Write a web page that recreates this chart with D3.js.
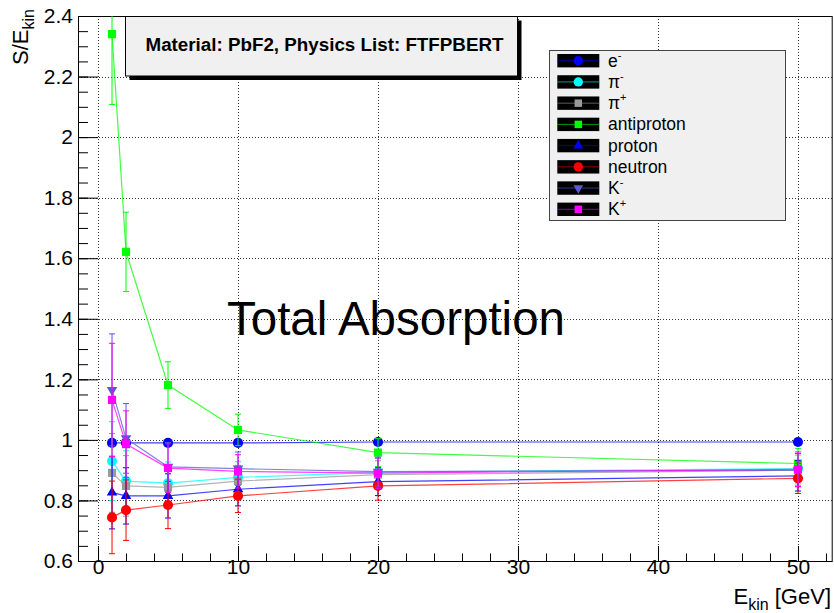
<!DOCTYPE html>
<html>
<head>
<meta charset="utf-8">
<script src="https://cdn.jsdelivr.net/npm/d3@7"></script>
<style>
  html, body { margin: 0; padding: 0; background: #fff; }
  svg { display: block; font-family: "Liberation Sans", Arial, Helvetica, sans-serif; }
</style>
</head>
<body>
<svg id="chart" width="834" height="613"></svg>
<script>
// Beam energies (GeV)
const energies = [1, 2, 5, 10, 20, 50];

// Response S/E_kin per particle, with symmetric errors
const eMinusVals      = [0.990, 0.990, 0.990, 0.990, 0.993, 0.993];
const eMinusErr       = [0.008, 0.008, 0.008, 0.008, 0.008, 0.008];
const piMinusVals     = [0.930, 0.864, 0.857, 0.876, 0.893, 0.905];
const piMinusErr      = [0.130, 0.100, 0.070, 0.052, 0.046, 0.050];
const piPlusVals      = [0.891, 0.848, 0.843, 0.864, 0.885, 0.900];
const piPlusErr       = [0.130, 0.100, 0.070, 0.052, 0.046, 0.050];
const antiprotonVals  = [2.340, 1.621, 1.181, 1.033, 0.958, 0.922];
const antiprotonErr   = [0.232, 0.131, 0.077, 0.052, 0.046, 0.050];
const protonVals      = [0.826, 0.815, 0.815, 0.837, 0.862, 0.881];
const protonErr       = [0.120, 0.093, 0.073, 0.055, 0.046, 0.050];
const neutronVals     = [0.744, 0.768, 0.785, 0.815, 0.848, 0.873];
const neutronErr      = [0.120, 0.100, 0.078, 0.055, 0.047, 0.050];
const kMinusVals      = [1.165, 1.005, 0.911, 0.905, 0.895, 0.900];
const kMinusErr       = [0.185, 0.115, 0.080, 0.055, 0.048, 0.055];
const kPlusVals       = [1.132, 0.986, 0.907, 0.896, 0.890, 0.903];
const kPlusErr        = [0.187, 0.110, 0.080, 0.055, 0.050, 0.057];

// Legend names (base text + optional superscript)
const particleNames = [
  ["e", "-"], ["\u03c0", "-"], ["\u03c0", "+"], ["antiproton", ""],
  ["proton", ""], ["neutron", ""], ["K", "-"], ["K", "+"]
];

// Tick labels
const xTicks = [0, 10, 20, 30, 40, 50];
const yTicks = [0.6, 0.8, 1, 1.2, 1.4, 1.6, 1.8, 2, 2.2, 2.4];

const seriesStyle = [
  { color: "#0000ff", marker: "circle" },
  { color: "#00ffff", marker: "circle" },
  { color: "#999999", marker: "square" },
  { color: "#00ff00", marker: "square" },
  { color: "#0000ff", marker: "triangleUp" },
  { color: "#ff0000", marker: "circle" },
  { color: "#5a5ad2", marker: "triangleDown" },
  { color: "#ff00ff", marker: "square" }
];
const seriesVals = [eMinusVals, piMinusVals, piPlusVals, antiprotonVals,
                    protonVals, neutronVals, kMinusVals, kPlusVals];
const seriesErr = [eMinusErr, piMinusErr, piPlusErr, antiprotonErr,
                   protonErr, neutronErr, kMinusErr, kPlusErr];

const series = seriesVals.map((vals, i) => ({
  name: particleNames[i],
  color: seriesStyle[i].color,
  marker: seriesStyle[i].marker,
  points: energies.map((e, j) => ({ x: e, y: vals[j], err: seriesErr[i][j] }))
}));

const svg = d3.select("#chart");
const frame = { left: 78, right: 832.7, top: 16, bottom: 561 };

const x = d3.scaleLinear().domain([-1.43, 52.48]).range([frame.left, frame.right]);
const y = d3.scaleLinear().domain([0.6, 2.4]).range([frame.bottom, frame.top]);

svg.append("defs").append("clipPath").attr("id", "plotClip")
  .append("rect")
  .attr("x", frame.left).attr("y", frame.top)
  .attr("width", frame.right - frame.left).attr("height", frame.bottom - frame.top);

// Dotted grid at major ticks
const grid = svg.append("g").attr("stroke", "#333").attr("stroke-dasharray", "1,2").attr("stroke-width", 1);
grid.selectAll("line.gx").data(xTicks).join("line")
  .attr("x1", d => Math.round(x(d)) + 0.5).attr("x2", d => Math.round(x(d)) + 0.5)
  .attr("y1", frame.top).attr("y2", frame.bottom);
grid.selectAll("line.gy").data(yTicks).join("line")
  .attr("y1", d => Math.round(y(d)) + 0.5).attr("y2", d => Math.round(y(d)) + 0.5)
  .attr("x1", frame.left).attr("x2", frame.right);

// Axes: ticks point into the frame
const tickFont = "21px";
const xMinor = d3.range(0, 53, 2);
const yMinor = d3.range(0.6, 2.401, 0.05);

const gxMinor = svg.append("g").attr("transform", `translate(0,${frame.bottom})`)
  .call(d3.axisBottom(x).tickValues(xMinor).tickSize(-7.5).tickFormat(""));
const gx = svg.append("g").attr("transform", `translate(0,${frame.bottom})`)
  .call(d3.axisBottom(x).tickValues(xTicks).tickSize(-15).tickPadding(9).tickFormat(d => String(d)));
const gyMinor = svg.append("g").attr("transform", `translate(${frame.left},0)`)
  .call(d3.axisLeft(y).tickValues(yMinor).tickSize(-10).tickFormat(""));
const gy = svg.append("g").attr("transform", `translate(${frame.left},0)`)
  .call(d3.axisLeft(y).tickValues(yTicks).tickSize(-20).tickPadding(5).tickFormat(d => String(+d.toFixed(1))));

[gxMinor, gx, gyMinor, gy].forEach(g => {
  g.select(".domain").remove();
  g.selectAll("line").attr("stroke", "#000");
  g.selectAll("text").attr("font-size", tickFont).attr("fill", "#000")
    .attr("font-family", "Liberation Sans, Arial, sans-serif");
});
gx.selectAll("text").attr("dy", "0.2em");

// Frame
svg.append("rect")
  .attr("x", frame.left + 0.5).attr("y", frame.top + 0.5)
  .attr("width", frame.right - frame.left - 1).attr("height", frame.bottom - frame.top)
  .attr("fill", "none").attr("stroke", "#000").attr("stroke-width", 1);

// Axis titles
const xt = svg.append("text").attr("x", 831).attr("y", 604).attr("text-anchor", "end")
  .attr("font-size", 22).attr("fill", "#000");
xt.append("tspan").text("E");
xt.append("tspan").attr("font-size", 16).attr("dy", 6).text("kin");
xt.append("tspan").attr("dy", -6).text(" [GeV]");

const yt = svg.append("text").attr("transform", "translate(28,9) rotate(-90)")
  .attr("text-anchor", "end").attr("font-size", 22).attr("fill", "#000");
yt.append("tspan").text("S/E");
yt.append("tspan").attr("font-size", 16).attr("dy", 6).text("kin");

// Annotation
svg.append("text").attr("x", 227).attr("y", 335)
  .attr("font-size", 47.5).attr("fill", "#000").text("Total Absorption");

// Marker shapes
function markerPath(kind, scale) {
  const s = scale || 1;
  if (kind === "circle") return d3.symbol(d3.symbolCircle, 80 * s)();
  if (kind === "square") return d3.symbol(d3.symbolSquare, 66 * s)();
  return d3.symbol(d3.symbolTriangle, 48 * s)();
}
function drawMarker(g, kind, color, cx, cy, scale) {
  g.append("path")
    .attr("d", markerPath(kind, scale))
    .attr("transform", `translate(${cx},${cy})` + (kind === "triangleDown" ? " rotate(180)" : ""))
    .attr("fill", color);
}

const plot = svg.append("g").attr("clip-path", "url(#plotClip)");
const line = d3.line().x(d => x(d.x)).y(d => y(d.y));

series.forEach(s => {
  const g = plot.append("g");
  g.append("path").datum(s.points)
    .attr("d", line).attr("fill", "none")
    .attr("stroke", s.color).attr("stroke-width", 1.2).attr("stroke-opacity", 0.75);
  const eb = g.append("g").attr("stroke", s.color).attr("stroke-width", 1);
  s.points.forEach(p => {
    const px = x(p.x), top = y(p.y + p.err), bot = y(p.y - p.err);
    eb.append("line").attr("x1", px).attr("x2", px).attr("y1", top).attr("y2", bot);
    eb.append("line").attr("x1", px - 3).attr("x2", px + 3).attr("y1", top).attr("y2", top);
    eb.append("line").attr("x1", px - 3).attr("x2", px + 3).attr("y1", bot).attr("y2", bot);
  });
  s.points.forEach(p => drawMarker(g, s.marker, s.color, x(p.x), y(p.y)));
});

// Header box with shadow
const hb = { x: 125.5, y: 16.5, w: 392, h: 59.5 };
svg.append("rect").attr("x", hb.x + 4).attr("y", hb.y + 4).attr("width", hb.w).attr("height", hb.h).attr("fill", "#000");
svg.append("rect").attr("x", hb.x).attr("y", hb.y).attr("width", hb.w).attr("height", hb.h)
  .attr("fill", "#f0f0f0").attr("stroke", "#000").attr("stroke-width", 1);
svg.append("text").attr("x", 145.5).attr("y", 51).attr("font-size", 18.8).attr("font-weight", "bold")
  .attr("fill", "#000").text("Material: PbF2, Physics List: FTFPBERT");

// Legend
const lg = svg.append("g");
lg.append("rect").attr("x", 549.5).attr("y", 50.5).attr("width", 236).attr("height", 170)
  .attr("fill", "#f0f0f0").attr("stroke", "#444").attr("stroke-width", 1);
const rowY = d3.scaleLinear().domain([0, 7]).range([60.7, 209.3]);
series.forEach((s, i) => {
  const cy = rowY(i);
  lg.append("rect").attr("x", 557.3).attr("y", cy - 6.7).attr("width", 42).attr("height", 13.4).attr("fill", "#000");
  lg.append("line").attr("x1", 557.3).attr("x2", 599.3).attr("y1", cy).attr("y2", cy)
    .attr("stroke", s.color).attr("stroke-width", 1).attr("stroke-opacity", 0.6);
  drawMarker(lg, s.marker, s.color, 578.3, cy, 0.85);
  const t = lg.append("text").attr("x", 608).attr("y", cy + 6).attr("font-size", 17.5).attr("fill", "#000");
  t.append("tspan").text(s.name[0]);
  if (s.name[1]) t.append("tspan").attr("font-size", 11).attr("dy", -8).text(s.name[1]);
});
</script>
</body>
</html>
